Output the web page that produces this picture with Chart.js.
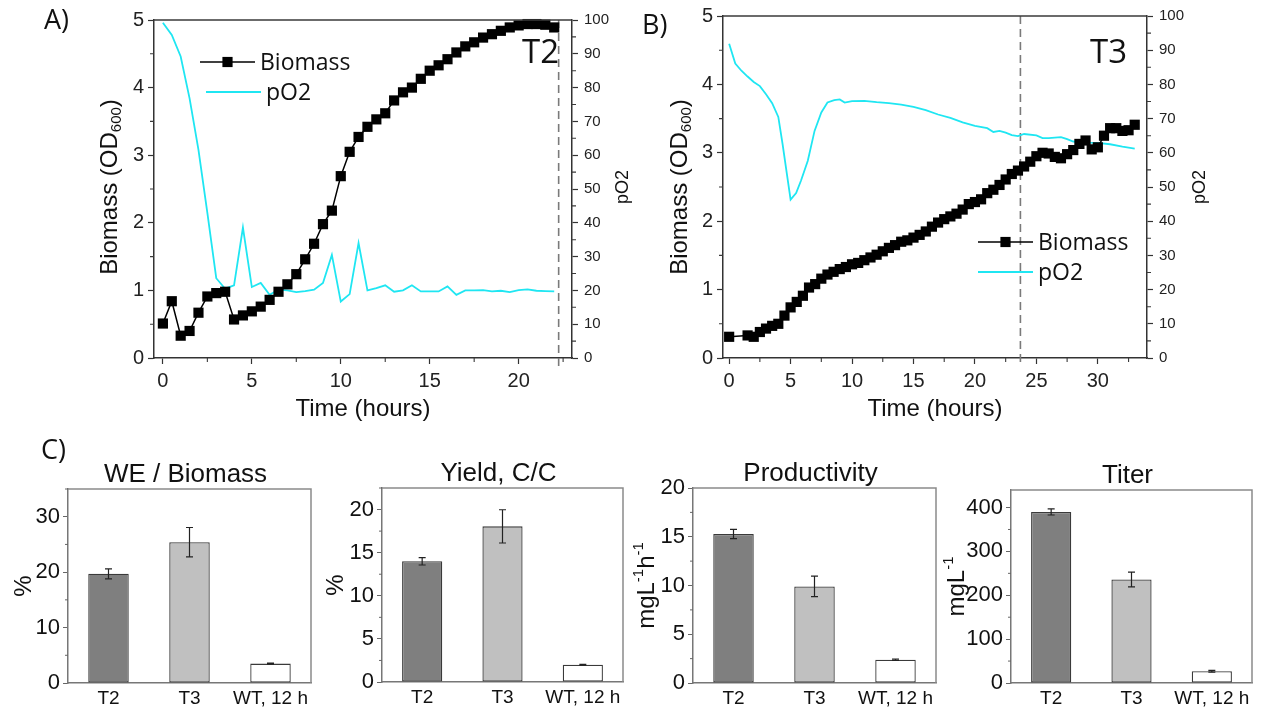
<!DOCTYPE html>
<html>
<head>
<meta charset="utf-8">
<title>Biomass, pO2 and production</title>
<script src="https://cdn.jsdelivr.net/npm/chart.js@4.4.1/dist/chart.umd.min.js"></script>
<style>
  body { margin: 0; background: #fff; }
  #wrap { position: relative; width: 1262px; height: 712px; overflow: hidden; }
  #wrap canvas { position: absolute; }
  .tag { position: absolute; font: 27px "Open Sans", sans-serif; color: #111; line-height: 1; }
</style>
</head>
<body>
<div id="wrap">
  <canvas id="panelA" width="640" height="430" style="left:0;top:0"></canvas>
  <canvas id="panelB" width="632" height="430" style="left:630px;top:0"></canvas>
  <canvas id="barWE" width="320" height="272" style="left:0;top:440px"></canvas>
  <canvas id="barYield" width="310" height="272" style="left:320px;top:440px"></canvas>
  <canvas id="barProd" width="310" height="272" style="left:630px;top:440px"></canvas>
  <canvas id="barTiter" width="322" height="272" style="left:940px;top:440px"></canvas>
  <div class="tag" style="left:44px;top:5px">A)</div>
  <div class="tag" style="left:642px;top:10px">B)</div>
  <div class="tag" style="left:41px;top:435px">C)</div>
</div>
<script>
const AX = '"Liberation Sans", Arial, sans-serif';
const SG = '"Open Sans", sans-serif';
const CYAN = '#1fe6f2';

// A) T2 run
const timeA = [0, 0.5, 1, 1.5, 2, 2.5, 3, 3.5, 4, 4.5, 5, 5.5, 6, 6.5, 7, 7.5, 8, 8.5, 9, 9.5, 10, 10.5,
  11, 11.5, 12, 12.5, 13, 13.5, 14, 14.5, 15, 15.5, 16, 16.5, 17, 17.5, 18, 18.5, 19, 19.5, 20, 20.5, 21, 21.5, 22];
const biomassA = [0.51, 0.84, 0.33, 0.40, 0.67, 0.91, 0.96, 0.98, 0.57, 0.63, 0.69, 0.76, 0.86, 0.98, 1.09, 1.24,
  1.46, 1.69, 1.98, 2.18, 2.69, 3.05, 3.27, 3.42, 3.53, 3.62, 3.81, 3.93, 4.00, 4.13, 4.25, 4.33, 4.42, 4.52,
  4.61, 4.67, 4.74, 4.79, 4.84, 4.89, 4.92, 4.94, 4.94, 4.93, 4.89];
const po2A = [99.2, 95.6, 89.2, 76.8, 61.6, 42.9, 23.6, 20.5, 21.5, 38.6, 21.0, 22.2, 18.7, 20.2, 20.0, 19.5,
  19.8, 20.2, 22.2, 30.5, 16.7, 18.9, 34.0, 20.0, 20.7, 21.5, 19.6, 20.0, 21.5, 19.7, 19.7, 19.7, 21.2, 18.7,
  20.0, 20.0, 20.1, 19.7, 19.9, 19.5, 20.1, 20.3, 19.9, 19.8, 19.7];
const markA = 22.25;

// B) T3 run
const timeB = [0, 1.5, 2, 2.5, 3, 3.5, 4, 4.5, 5, 5.5, 6, 6.5, 7, 7.5, 8, 8.5, 9, 9.5, 10, 10.5, 11, 11.5,
  12, 12.5, 13, 13.5, 14, 14.5, 15, 15.5, 16, 16.5, 17, 17.5, 18, 18.5, 19, 19.5, 20, 20.5, 21, 21.5, 22, 22.5,
  23, 23.5, 24, 24.5, 25, 25.5, 26, 26.5, 27, 27.5, 28, 28.5, 29, 29.5, 30, 30.5, 31, 31.5, 32, 32.5, 33];
const biomassB = [0.31, 0.33, 0.31, 0.38, 0.43, 0.47, 0.50, 0.62, 0.74, 0.82, 0.91, 1.03, 1.08, 1.16, 1.22,
  1.26, 1.30, 1.33, 1.37, 1.39, 1.43, 1.47, 1.51, 1.56, 1.61, 1.65, 1.70, 1.72, 1.76, 1.80, 1.85, 1.92, 1.98,
  2.03, 2.07, 2.11, 2.17, 2.25, 2.28, 2.32, 2.41, 2.46, 2.53, 2.61, 2.69, 2.74, 2.80, 2.87, 2.95, 3.00, 2.99,
  2.94, 2.92, 2.98, 3.04, 3.13, 3.18, 3.05, 3.08, 3.25, 3.36, 3.36, 3.32, 3.33, 3.41];
const po2TimeB = [0, 0.5, 1, 1.5, 2, 2.5, 3, 3.5, 4, 4.35, 4.7, 5, 5.45, 5.85, 6.4, 6.95, 7.5, 8, 8.55, 9, 9.4,
  10, 11, 12, 13, 14, 15, 16, 17, 18, 19, 20, 21, 21.5, 22, 22.5, 23, 23.5, 24, 25, 25.5, 26, 27, 27.5, 28,
  29, 30, 31, 32, 33];
const po2B = [91.9, 86.1, 84.0, 82.3, 80.7, 79.5, 77.1, 74.5, 70.5, 62.5, 53.8, 46.3, 48.2, 51.9, 57.7, 66.4,
  71.8, 74.7, 75.4, 75.6, 74.7, 75.1, 75.2, 74.8, 74.5, 74.1, 73.4, 72.5, 71.2, 70.2, 68.9, 67.9, 67.2, 66.1,
  66.4, 65.9, 65.2, 64.9, 65.5, 65.1, 64.3, 64.3, 64.6, 64.0, 63.3, 63.0, 62.9, 62.5, 61.8, 61.2];
const markB = 23.7;

// C) comparison
const strains = ['T2', 'T3', 'WT, 12 h'];
const weBiomass = [19.7, 25.4, 3.5];
const weBiomassErr = [0.9, 2.65, 0.1];
const yieldCC = [14.0, 18.05, 2.0];
const yieldErr = [0.43, 1.93, 0.05];
const productivity = [15.28, 9.91, 2.39];
const productivityErr = [0.48, 1.06, 0.07];
const titer = [390, 236, 27];
const titerErr = [7, 17, 2];
const barColors = ['#7f7f7f', '#c0c0c0', '#ffffff'];

Chart.defaults.font.family = AX;

// rotated text (reads bottom to top), parts can be sub/superscript
function vtext(ctx, parts, x, y, size, family) {
  const small = Math.round(size * 0.64);
  const fontOf = m => (m ? small : size) + 'px ' + family;
  let w = 0;
  parts.forEach(([t, m]) => { ctx.font = fontOf(m); w += ctx.measureText(t).width; });
  ctx.save();
  ctx.translate(x, y);
  ctx.rotate(-Math.PI / 2);
  ctx.fillStyle = '#111';
  ctx.textBaseline = 'middle';
  ctx.textAlign = 'left';
  let cx = -w / 2;
  parts.forEach(([t, m]) => {
    ctx.font = fontOf(m);
    const dy = m === 'sub' ? size * 0.28 : m === 'sup' ? -size * 0.32 : 0;
    ctx.fillText(t, cx, dy);
    cx += ctx.measureText(t).width;
  });
  ctx.restore();
}

function minorTicks(ctx, scale, step, len) {
  const major = scale.ticks.map(t => t.value);
  ctx.beginPath();
  for (let i = Math.ceil(scale.min / step); i * step <= scale.max + 1e-9; i++) {
    const v = i * step;
    if (major.some(m => Math.abs(m - v) < 1e-6)) continue;
    const p = scale.getPixelForValue(v);
    if (scale.position === 'left') { ctx.moveTo(scale.right, p); ctx.lineTo(scale.right - len, p); }
    else if (scale.position === 'right') { ctx.moveTo(scale.left, p); ctx.lineTo(scale.left + len, p); }
    else { ctx.moveTo(p, scale.top); ctx.lineTo(p, scale.top + len); }
  }
  ctx.stroke();
}

const panelDecor = {
  id: 'panelDecor',
  beforeDatasetsDraw(chart, args, o) {
    const { ctx, chartArea: a, scales: { x } } = chart;
    const mx = x.getPixelForValue(o.mark);
    ctx.save();
    ctx.strokeStyle = '#7a7a7a';
    ctx.lineWidth = 1.6;
    ctx.setLineDash([8, 5]);
    ctx.beginPath();
    ctx.moveTo(mx, a.top);
    ctx.lineTo(mx, a.bottom + 8);
    ctx.stroke();
    ctx.restore();
  },
  afterDraw(chart, args, o) {
    const { ctx, chartArea: a, scales } = chart;
    ctx.save();
    ctx.strokeStyle = '#3a3a3a';
    ctx.lineWidth = 1.3;
    ctx.beginPath();
    ctx.moveTo(a.left, a.top);
    ctx.lineTo(a.right, a.top);
    ctx.stroke();
    ctx.lineWidth = 1.1;
    minorTicks(ctx, scales.x, 2.5, 4);
    minorTicks(ctx, scales.y, 0.5, 4);
    minorTicks(ctx, scales.y2, 5, 4);

    ctx.fillStyle = '#111';
    ctx.textAlign = 'left';
    ctx.textBaseline = 'alphabetic';
    ctx.font = '33px ' + SG;
    ctx.fillText(o.tag, o.tagX, o.tagY);

    // legend built from the datasets
    ctx.font = '23px ' + SG;
    chart.data.datasets.forEach((ds, i) => {
      const y = o.legendY + i * 30;
      const x = o.legendX + i * o.legendShift;
      ctx.strokeStyle = ds.borderColor;
      ctx.lineWidth = ds.borderWidth;
      ctx.beginPath();
      ctx.moveTo(x, y);
      ctx.lineTo(x + 55, y);
      ctx.stroke();
      if (ds.pointRadius) {
        const h = ds.pointRadius * Math.SQRT1_2;
        ctx.fillStyle = ds.pointBackgroundColor;
        ctx.fillRect(x + 27.5 - h, y - h, 2 * h, 2 * h);
      }
      ctx.fillStyle = '#111';
      ctx.fillText(ds.label, x + 60, y + 8);
    });

    vtext(ctx, [['Biomass (OD', ''], ['600', 'sub'], [')', '']], o.yTitleX, o.titleY, 24, AX);
    vtext(ctx, [['pO2', '']], o.y2TitleX, o.titleY, 18, AX);
    ctx.restore();
  }
};

function makePanel(id, time, biomass, po2Time, po2, cfg) {
  const axisGrid = { drawOnChartArea: false, tickLength: 6, tickColor: '#333', tickWidth: 1.2 };
  const axisBorder = { color: '#333', width: 1.5 };
  return new Chart(document.getElementById(id), {
    type: 'line',
    data: {
      datasets: [
        {
          label: 'Biomass',
          data: time.map((t, i) => ({ x: t, y: biomass[i] })),
          yAxisID: 'y',
          borderColor: '#000',
          borderWidth: 1.5,
          pointStyle: 'rect',
          pointRadius: 7.2,
          pointBackgroundColor: '#000',
          pointBorderWidth: 0,
          clip: false
        },
        {
          label: 'pO2',
          data: po2Time.map((t, i) => ({ x: t, y: po2[i] })),
          yAxisID: 'y2',
          borderColor: CYAN,
          borderWidth: 1.8,
          pointRadius: 0
        }
      ]
    },
    options: {
      responsive: false,
      animation: false,
      layout: { padding: { top: cfg.top, left: 0, right: 0, bottom: 0 } },
      plugins: {
        legend: { display: false },
        tooltip: { enabled: false },
        panelDecor: cfg.decor
      },
      scales: {
        x: {
          type: 'linear',
          min: cfg.xMin,
          max: cfg.xMax,
          afterFit: s => { s.height = cfg.xH; },
          ticks: { stepSize: 5, includeBounds: false, autoSkip: false, maxRotation: 0,
            font: { size: 20 }, color: '#222', padding: 5 },
          grid: axisGrid,
          border: axisBorder,
          title: { display: true, text: 'Time (hours)', font: { size: 24 }, color: '#111',
            padding: { top: 0, bottom: 6 } }
        },
        y: {
          position: 'left',
          min: 0,
          max: 5,
          afterFit: s => { s.width = cfg.yW; },
          ticks: { stepSize: 1, font: { size: 20 }, color: '#222', padding: 4 },
          grid: axisGrid,
          border: axisBorder
        },
        y2: {
          position: 'right',
          min: 0,
          max: 100,
          afterFit: s => { s.width = cfg.y2W; },
          ticks: { stepSize: 10, autoSkip: false, font: { size: 15 }, color: '#222', padding: 6 },
          grid: axisGrid,
          border: axisBorder
        }
      }
    },
    plugins: [panelDecor]
  });
}

makePanel('panelA', timeA, biomassA, timeA, po2A, {
  top: 20, yW: 154, y2W: 68, xH: 72, xMin: -0.5, xMax: 23,
  decor: { mark: markA, tag: 'T2', tagX: 522, tagY: 63, legendX: 200, legendY: 62, legendShift: 6,
    yTitleX: 110, y2TitleX: 623, titleY: 187 }
});

makePanel('panelB', timeB, biomassB, po2TimeB, po2B, {
  top: 15, yW: 93, y2W: 115, xH: 72, xMin: -0.5, xMax: 34,
  decor: { mark: markB, tag: 'T3', tagX: 460, tagY: 63, legendX: 348, legendY: 242, legendShift: 0,
    yTitleX: 50, y2TitleX: 570, titleY: 187 }
});

const barDecor = {
  id: 'barDecor',
  afterDatasetsDraw(chart, args, o) {
    const { ctx, scales: { y } } = chart;
    const meta = chart.getDatasetMeta(0);
    const vals = chart.data.datasets[0].data;
    ctx.save();
    ctx.strokeStyle = '#222';
    ctx.lineWidth = 1.2;
    ctx.beginPath();
    meta.data.forEach((bar, i) => {
      const hi = y.getPixelForValue(vals[i] + o.err[i]);
      const lo = y.getPixelForValue(vals[i] - o.err[i]);
      ctx.moveTo(bar.x, hi); ctx.lineTo(bar.x, lo);
      ctx.moveTo(bar.x - 3.5, hi); ctx.lineTo(bar.x + 3.5, hi);
      ctx.moveTo(bar.x - 3.5, lo); ctx.lineTo(bar.x + 3.5, lo);
    });
    ctx.stroke();
    ctx.restore();
  },
  afterDraw(chart, args, o) {
    const { ctx, chartArea: a, scales: { y } } = chart;
    ctx.save();
    ctx.strokeStyle = '#8a8a8a';
    ctx.lineWidth = 1.5;
    ctx.beginPath();
    ctx.moveTo(a.left, a.top);
    ctx.lineTo(a.right, a.top);
    ctx.lineTo(a.right, a.bottom);
    ctx.stroke();
    ctx.strokeStyle = '#666';
    ctx.lineWidth = 1;
    minorTicks(ctx, y, o.minor, 3);
    ctx.fillStyle = '#111';
    ctx.font = '26px ' + AX;
    ctx.textAlign = 'center';
    ctx.textBaseline = 'alphabetic';
    ctx.fillText(o.title, (a.left + a.right) / 2 - 4, a.top - 7);
    vtext(ctx, o.yTitle, o.yTitleX, (a.top + a.bottom) / 2, 24, AX);
    ctx.restore();
  }
};

function makeBar(id, values, errs, cfg) {
  return new Chart(document.getElementById(id), {
    type: 'bar',
    data: {
      labels: strains,
      datasets: [{
        data: values,
        backgroundColor: barColors,
        borderColor: '#3a3a3a',
        borderWidth: 1.3,
        borderSkipped: false,
        categoryPercentage: 1,
        barPercentage: 0.5
      }]
    },
    options: {
      responsive: false,
      animation: false,
      layout: { padding: { top: cfg.top, right: cfg.right, left: 0, bottom: 0 } },
      plugins: {
        legend: { display: false },
        tooltip: { enabled: false },
        barDecor: { err: errs, minor: cfg.minor, title: cfg.title, yTitle: cfg.yTitle, yTitleX: cfg.yTitleX }
      },
      scales: {
        x: {
          afterFit: s => { s.height = cfg.xH; },
          ticks: { font: { size: 19 }, color: '#111', padding: 4, maxRotation: 0, autoSkip: false },
          grid: { drawOnChartArea: false, drawTicks: false },
          border: { color: '#777', width: 1.5 }
        },
        y: {
          min: 0,
          max: cfg.max,
          afterFit: s => { s.width = cfg.yW; },
          ticks: { stepSize: cfg.step, includeBounds: false, font: { size: 22 }, color: '#111', padding: 3 },
          grid: { drawOnChartArea: false, tickLength: 5, tickColor: '#666' },
          border: { color: '#777', width: 1.5 }
        }
      }
    },
    plugins: [barDecor]
  });
}

makeBar('barWE', weBiomass, weBiomassErr, {
  top: 49, right: 9, yW: 68, xH: 29, max: 35, step: 10, minor: 5,
  title: 'WE / Biomass', yTitle: [['%', '']], yTitleX: 24
});
makeBar('barYield', yieldCC, yieldErr, {
  top: 48, right: 7, yW: 62, xH: 30, max: 22.5, step: 5, minor: 2.5,
  title: 'Yield, C/C', yTitle: [['%', '']], yTitleX: 16
});
makeBar('barProd', productivity, productivityErr, {
  top: 48, right: 4, yW: 63, xH: 29, max: 20, step: 5, minor: 2.5,
  title: 'Productivity', yTitle: [['mgL', ''], ['-1', 'sup'], ['h', ''], ['-1', 'sup']], yTitleX: 17
});
makeBar('barTiter', titer, titerErr, {
  top: 50, right: 10, yW: 71, xH: 29, max: 440, step: 100, minor: 50,
  title: 'Titer', yTitle: [['mgL', ''], ['-1', 'sup']], yTitleX: 17
});
</script>
</body>
</html>
